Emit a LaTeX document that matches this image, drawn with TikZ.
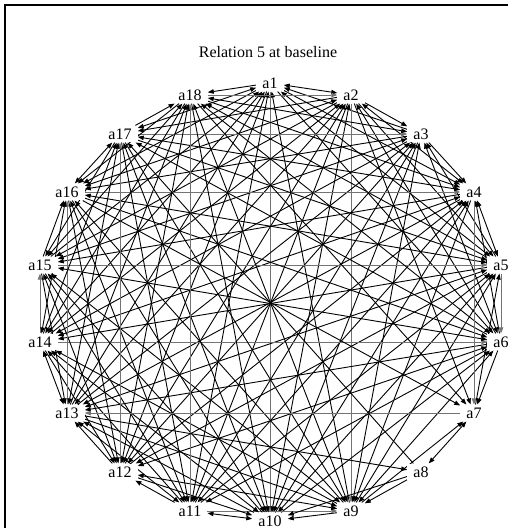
\documentclass[tikz,border=0pt]{standalone}
\usepackage{fontspec}
\setmainfont{Liberation Serif}
\usetikzlibrary{arrows.meta,backgrounds}
\begin{document}
\begin{tikzpicture}[x=1pt,y=-1pt,
  vlab/.style={fill=white,inner xsep=6pt,inner ysep=3pt,font=\fontsize{16}{16}\selectfont},
  edge/.style={line width=0.9pt,-{Triangle[length=6pt,width=4.5pt]}},
  medge/.style={line width=0.9pt,{Triangle[length=6pt,width=4.5pt]}-{Triangle[length=6pt,width=4.5pt]}},
  axline/.style={draw=black!55},
  normline/.style={draw=black}]
\useasboundingbox (0,0) rectangle (508,528);
\draw[line width=1.4pt] (5,528) -- (5,5) -- (508,5);
\node[font=\fontsize{16}{16}\selectfont] (title) at (268,52) {Relation 5 at baseline};
\foreach \n/\x/\y in {a1/270/83,a2/351/95,a3/421/134,a4/474/192,a5/501/265,a6/501/342,a7/474/413,a8/421/472,a9/351/511,a10/270/521,a11/190/511,a12/120/472,a13/67/413,a14/40/342,a15/40/265,a16/67/192,a17/120/134,a18/190/95}
  \node[vlab] (\n) at (\x,\y) {\n};
\begin{pgfonlayer}{background}
\foreach \i in {1,...,17} {
  \pgfmathtruncatemacro\s{\i+1}
  \foreach \j in {\s,...,18} {
    \pgfmathtruncatemacro\skp{(\i==7 || \i==8 || \j==7 || \j==8) ? 1 : 0}
    \pgfmathtruncatemacro\mut{(mod(\i+\j,3)==0) ? 1 : 0}
    \pgfmathtruncatemacro\odd{mod(\j-\i,2)}
    \pgfmathtruncatemacro\ax{(\i+\j==11 || \i+\j==20 || \i+\j==29) ? 1 : 0}
    \ifnum\skp=0
      \ifnum\ax=1 \def\col{axline}\else\def\col{normline}\fi
      \ifnum\mut=1 \draw[medge,\col] (a\i) -- (a\j);
      \else \ifnum\odd=1 \draw[edge,\col] (a\i) -- (a\j); \else \draw[edge,\col] (a\j) -- (a\i); \fi
      \fi
    \fi
  }
}
\draw[edge,axline] (a4) -- (a7);
\draw[edge,axline] (a7) -- (a13);
\foreach \s/\t in {a9/a7,a7/a5,a6/a7,a2/a7,a18/a7,a16/a7,a13/a8,a8/a9,a8/a10,a8/a17}
  \draw[edge] (\s) -- (\t);
\draw[medge] (a7) -- (a8);
\end{pgfonlayer}
\end{tikzpicture}
\end{document}
